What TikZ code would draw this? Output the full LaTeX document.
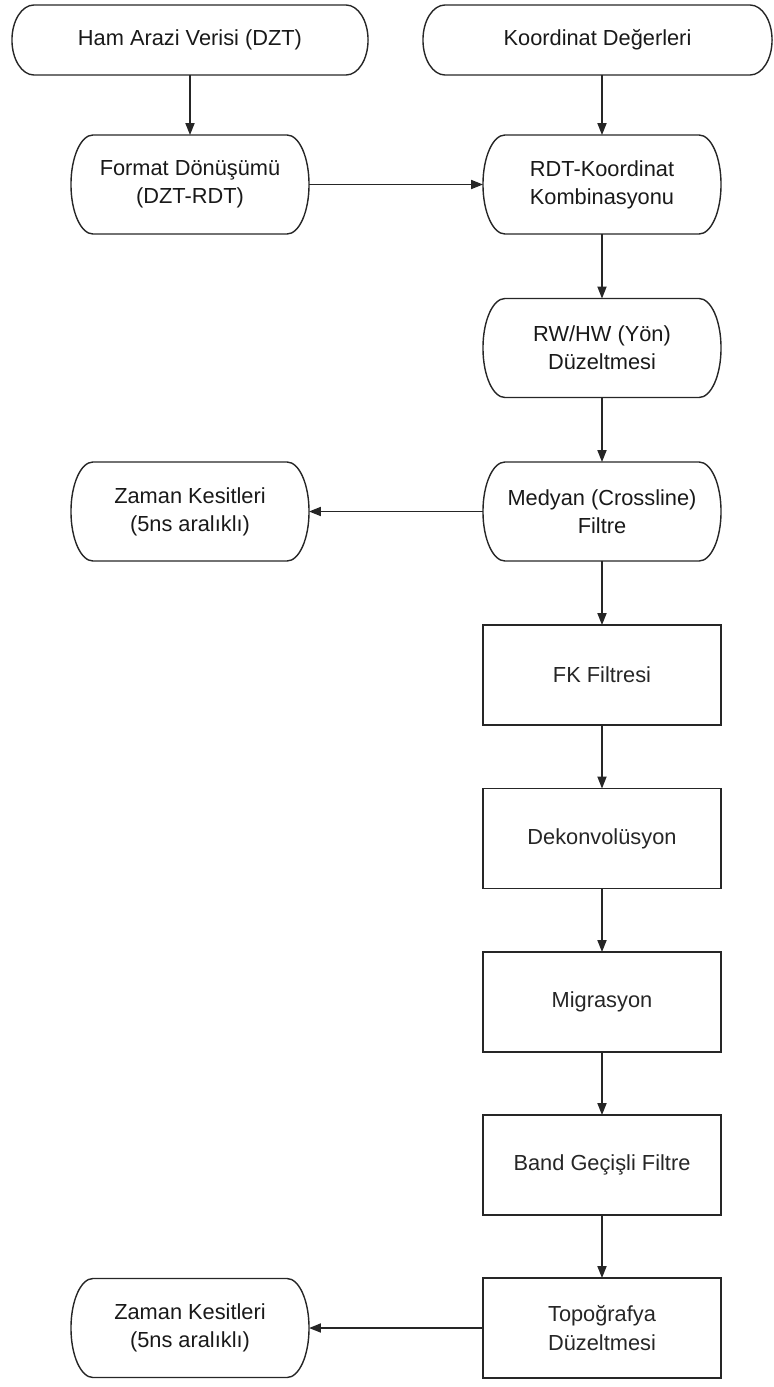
\documentclass[tikz,border=0pt]{standalone}
\usepackage{fontspec}
\setmainfont{Liberation Sans}
\usepackage{tikz}
\usetikzlibrary{
  arrows.meta,
  calc
}
\tikzset{
  flowline/.style={line width=1pt, black!85},
  flowtext/.style={
    font=\fontsize{15.5}{20}\selectfont,
    text=black!90,
    align=center,
    inner sep=0pt,
    outer sep=0pt
  },
  procbox/.style={
    flowtext, flowline, draw, rectangle,
    minimum width=5.95cm, minimum height=2.5cm
  },
  termbox/.style 2 args={
    flowtext, rectangle,
    minimum width=#1, minimum height=#2,
    append after command={
      \pgfextra{\let\termnode\tikzlastnode
        \draw [flowline]
        ([xshift=0.55cm]\termnode.north west) -- ([xshift=-0.55cm]\termnode.north east)
        arc [start angle=90, end angle=-90, x radius=0.55cm, y radius=#2/2]
        -- ([xshift=0.55cm]\termnode.south west)
        arc [start angle=270, end angle=90, x radius=0.55cm, y radius=#2/2]
        -- cycle;
      }
    }
  },
  flowarrow/.style={flowline, -{Triangle[length=8.5pt, width=6.5pt]}}
}
\begin{document}
\begin{tikzpicture}[x=0.025cm, y=-0.025cm]
  \useasboundingbox (0,0) rectangle (774,1387);
  % start nodes
  \node [termbox={8.9cm}{1.75cm}] (ham) at (190,40) {Ham Arazi Verisi (DZT)};
  \node [termbox={8.725cm}{1.75cm}] (koord) at (597.5,40) {Koordinat Değerleri};
  % rounded steps
  \node [termbox={5.95cm}{2.475cm}] (fmt) at (190,184.5) {Format Dönüşümü\\(DZT-RDT)};
  \node [termbox={5.95cm}{2.475cm}] (rdt) at (602,184.5) {RDT-Koordinat\\Kombinasyonu};
  \node [termbox={5.95cm}{2.475cm}] (rwhw) at (602,348) {RW/HW (Yön)\\Düzeltmesi};
  \node [termbox={5.95cm}{2.475cm}] (medyan) at (602,511.5) {Medyan (Crossline)\\Filtre};
  \node [termbox={5.95cm}{2.475cm}] (zaman1) at (190,511.5) {Zaman Kesitleri\\(5ns aralıklı)};
  % plain steps
  \node [procbox] (fk) at (602,675) {FK Filtresi};
  \node [procbox] (dekon) at (602,838.5) {Dekonvolüsyon};
  \node [procbox] (migr) at (602,1002) {Migrasyon};
  \node [procbox] (band) at (602,1165) {Band Geçişli Filtre};
  \node [procbox] (topo) at (602,1328) {Topoğrafya\\Düzeltmesi};
  \node [termbox={5.95cm}{2.475cm}] (zaman2) at (190,1328) {Zaman Kesitleri\\(5ns aralıklı)};

  \draw [flowarrow] (ham) -- (fmt);
  \draw [flowarrow] (koord.south -| rdt.north) -- (rdt.north);
  \draw [flowarrow] (fmt) -- (rdt);
  \draw [flowarrow] (rdt) -- (rwhw);
  \draw [flowarrow] (rwhw) -- (medyan);
  \draw [flowarrow] (medyan) -- (zaman1);
  \draw [flowarrow] (medyan) -- (fk);
  \draw [flowarrow] (fk) -- (dekon);
  \draw [flowarrow] (dekon) -- (migr);
  \draw [flowarrow] (migr) -- (band);
  \draw [flowarrow] (band) -- (topo);
  \draw [flowarrow] (topo) -- (zaman2);
\end{tikzpicture}
\end{document}
